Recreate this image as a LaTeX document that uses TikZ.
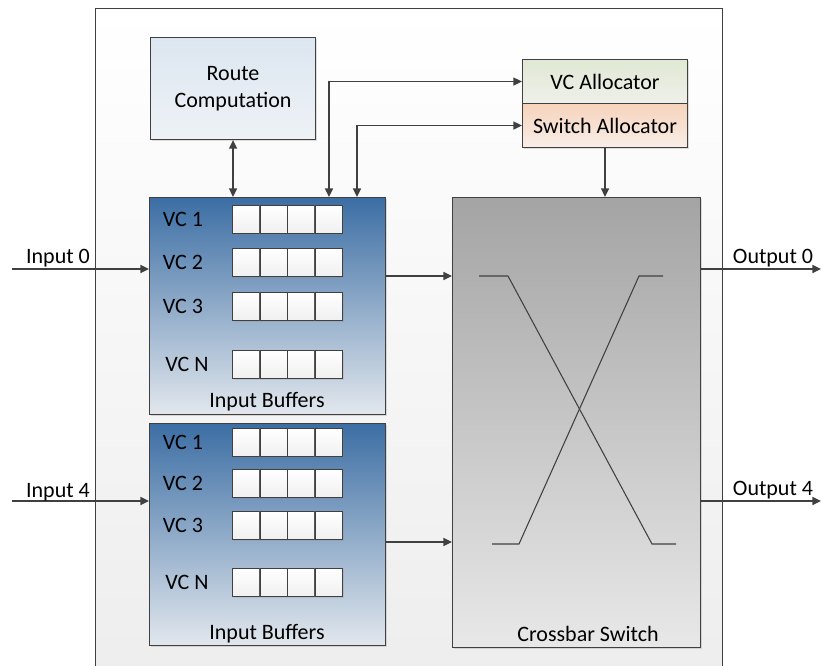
\documentclass[tikz,border=0pt]{standalone}
\usepackage{fontspec}
\setmainfont{Carlito}
\usetikzlibrary{arrows.meta,calc,shadows}
\definecolor{linec}{HTML}{404040}
\definecolor{bufTop}{HTML}{3C6EA4}
\definecolor{bufBot}{HTML}{E2E7ED}
\definecolor{rcTop}{HTML}{DCE6F0}
\definecolor{rcBot}{HTML}{EEF2F6}
\definecolor{xbTop}{HTML}{A4A4A4}
\definecolor{xbBot}{HTML}{E8E8E8}
\definecolor{vcTop}{HTML}{E0E8D4}
\definecolor{vcBot}{HTML}{EFF0EA}
\definecolor{swTop}{HTML}{F6D3BC}
\definecolor{swBot}{HTML}{F8EEE7}
\definecolor{bgTop}{HTML}{FFFFFF}
\definecolor{bgBot}{HTML}{EDEDED}
\tikzset{
  box/.style={draw=linec, line width=0.8pt, inner sep=0pt, anchor=north west,
    drop shadow={opacity=0.25, shadow xshift=1.3pt, shadow yshift=-1.3pt}},
  cellbox/.style={draw=linec, line width=0.7pt, inner sep=0pt, anchor=north west,
    minimum width=20.6pt, minimum height=21pt, top color=white, bottom color=black!6,
    drop shadow={opacity=0.2, shadow xshift=1pt, shadow yshift=-1pt}},
  lbl/.style={inner sep=0pt, font=\fontsize{16.5}{19.8}\selectfont, text=black},
  arr/.style={draw=linec, line width=1.1pt, -{Triangle[length=6.5pt,width=6pt]}},
  biarr/.style={draw=linec, line width=1.1pt, {Triangle[length=6.5pt,width=6pt]}-{Triangle[length=6.5pt,width=6pt]}},
  xline/.style={draw=linec, line width=0.8pt}
}
\begin{document}
\begin{tikzpicture}[x=0.75pt,y=-0.75pt]
\useasboundingbox (0,0) rectangle (821,666);
% router enclosure
\begin{scope}
  \clip (0,0) rectangle (821,666);
  \node[draw=linec, line width=0.8pt, inner sep=0pt, anchor=north west,
    minimum width=470.25pt, minimum height=513pt, top color=bgTop, bottom color=bgBot] (router) at (95,8) {};
\end{scope}

% route computation
\node[box, minimum width=123.75pt, minimum height=76.5pt, top color=rcTop, bottom color=rcBot] (rc) at (150,37) {};
\node[lbl, align=center] (rctext) at (rc.center) {Route\\Computation};

% allocators
\node[box, minimum width=123.75pt, minimum height=33pt, top color=vcTop, bottom color=vcBot] (vca) at (522,59) {};
\node[lbl] (vcatext) at (vca.center) {VC Allocator};
\node[box, minimum width=123.75pt, minimum height=33pt, top color=swTop, bottom color=swBot] (swa) at (522,103) {};
\node[lbl] (swatext) at (swa.center) {Switch Allocator};

% input buffer blocks
\node[box, minimum width=177pt, minimum height=162.75pt, top color=bufTop, bottom color=bufBot] (ib1) at (149,197) {};
\node[box, minimum width=177pt, minimum height=166.5pt, top color=bufTop, bottom color=bufBot] (ib2) at (149,423) {};

% virtual-channel queues: block / row / row top / label / label x
\foreach \blk/\row/\ry/\name/\lx in {
    1/1/205/VC 1/183, 1/2/248/VC 2/183, 1/3/292/VC 3/183, 1/4/350/VC N/187,
    2/1/428/VC 1/183, 2/2/469/VC 2/183, 2/3/511/VC 3/183, 2/4/568/VC N/187}{
  \foreach \col in {0,1,2,3}{
    \node[cellbox] (cell\blk\row\col) at ({232+27.5*\col},\ry) {};
  }
  \node[lbl] (vclbl\blk\row) at (\lx,{\ry+14}) {\name};
}
\node[lbl] (iblbl1) at (267,402) {Input Buffers};
\node[lbl] (iblbl2) at (267,634) {Input Buffers};

% crossbar switch
\node[box, minimum width=186pt, minimum height=337.5pt, top color=xbTop, bottom color=xbBot] (xb) at (452,197) {};
\node[lbl] (xblbl) at (588,634) {Crossbar Switch};
\draw[xline] (479,276) -- (508,276) -- (652,544) -- (676,544);
\draw[xline] (663,276) -- (639,276) -- (519,544) -- (492,544);

% control connections
\draw[biarr] (rc.south) -- (rc.south |- ib1.north);
\draw[biarr] ($(ib1.north west)+(180,0)$) |- (vca.west);
\draw[biarr] ($(ib1.north west)+(208,0)$) |- (swa.west);
\draw[arr] (swa.south) -- (swa.south |- xb.north);

% data path
\coordinate (in0) at (12,269);
\coordinate (in4) at (12,501);
\coordinate (out0) at (821,269);
\coordinate (out4) at (821,501);
\draw[arr] (in0) -- (in0 -| ib1.west);
\draw[arr] (in4) -- (in4 -| ib2.west);
\draw[arr] ($(ib1.north east)+(0,79)$) -- ($(xb.north west)+(0,79)$);
\draw[arr] ($(ib2.north east)+(0,119)$) -- ($(xb.north west)+(0,345)$);
\draw[arr] (out0 -| xb.east) -- (out0);
\draw[arr] (out4 -| xb.east) -- (out4);

\node[lbl] (in0lbl) at (58,258) {Input 0};
\node[lbl] (in4lbl) at (58,492) {Input 4};
\node[lbl] (out0lbl) at (773,258) {Output 0};
\node[lbl] (out4lbl) at (773,490) {Output 4};
\end{tikzpicture}
\end{document}
